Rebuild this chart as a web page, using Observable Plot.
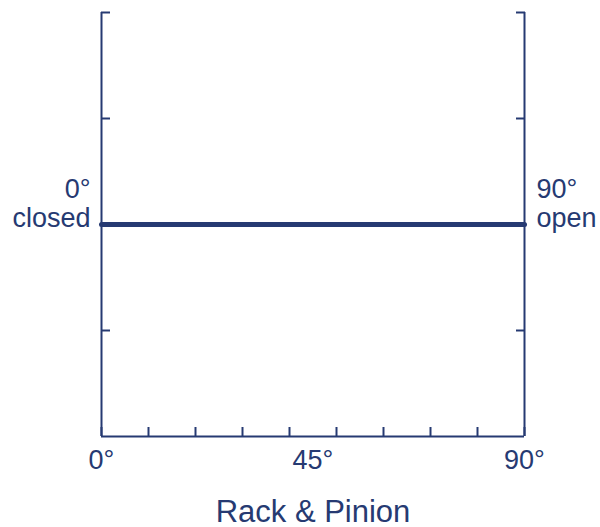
<!DOCTYPE html>
<html>
<head>
<meta charset="utf-8">
<script src="https://cdn.jsdelivr.net/npm/d3@7"></script>
<script src="https://cdn.jsdelivr.net/npm/@observablehq/plot@0.6"></script>
<style>
  body { margin: 0; background: #fff; }
  svg { font-family: "Liberation Sans", Arial, sans-serif; }
</style>
</head>
<body>
<div id="chart"></div>
<script>
// Data
const inputAngle = [0, 90];          // x: input rotation (degrees)
const valvePosition = [2, 2];        // y: output (constant, mid-scale)
const xMinorTicks = [0, 10, 20, 30, 40, 50, 60, 70, 80, 90];
const xLabelTicks = [0, 45, 90];
const yTicks = [1, 3, 4];
const leftLabels = ["0°", "closed"];
const rightLabels = ["90°", "open"];
const title = "Rack & Pinion";

const ink = "#263a72";
const data = inputAngle.map((x, i) => ({x, y: valvePosition[i]}));
const blank = () => "";

const chart = Plot.plot({
  width: 600,
  height: 527,
  marginTop: 12,
  marginBottom: 91,
  marginLeft: 101,
  marginRight: 76,
  x: {domain: [0, 90]},
  y: {domain: [0, 4]},
  style: {fontFamily: "Liberation Sans, Arial, sans-serif", color: ink, background: "#fff"},
  marks: [
    // frame: left, right, bottom
    Plot.ruleX([0, 90], {y1: 0, y2: 4, stroke: ink, strokeWidth: 2}),
    Plot.ruleY([0], {stroke: ink, strokeWidth: 2}),
    // inward ticks on bottom
    Plot.axisX({ticks: xMinorTicks, tickSize: 9, dy: -9, tickFormat: blank, stroke: ink, strokeWidth: 2, label: null}),
    Plot.axisX({ticks: xLabelTicks, tickSize: 0, tickPadding: 13, tickFormat: d => d + "°",
      fontSize: 27, fill: ink, label: title, labelAnchor: "center", labelOffset: 85, labelArrow: "none"}),
    // inward ticks on left and right
    Plot.axisY({anchor: "left", ticks: yTicks, tickSize: 9, dx: 9, tickFormat: blank, stroke: ink, strokeWidth: 2, label: null}),
    Plot.axisY({anchor: "right", ticks: yTicks, tickSize: 9, dx: -9, tickFormat: blank, stroke: ink, strokeWidth: 2, label: null}),
    // side labels
    Plot.text([leftLabels.join("\n")], {x: 0, y: 2, dx: -11, dy: 2, textAnchor: "end", lineAnchor: "bottom",
      fontSize: 27, lineHeight: 1.04, fill: ink}),
    Plot.text([rightLabels.join("\n")], {x: 90, y: 2, dx: 12, dy: 2, textAnchor: "start", lineAnchor: "bottom",
      fontSize: 27, lineHeight: 1.04, fill: ink}),
    // the characteristic line
    Plot.line(data, {x: "x", y: "y", stroke: ink, strokeWidth: 5})
  ]
});

d3.select(chart).selectAll("[aria-label='x-axis label'] text").attr("font-size", 31).attr("fill", ink);
document.getElementById("chart").append(chart);
</script>
</body>
</html>
